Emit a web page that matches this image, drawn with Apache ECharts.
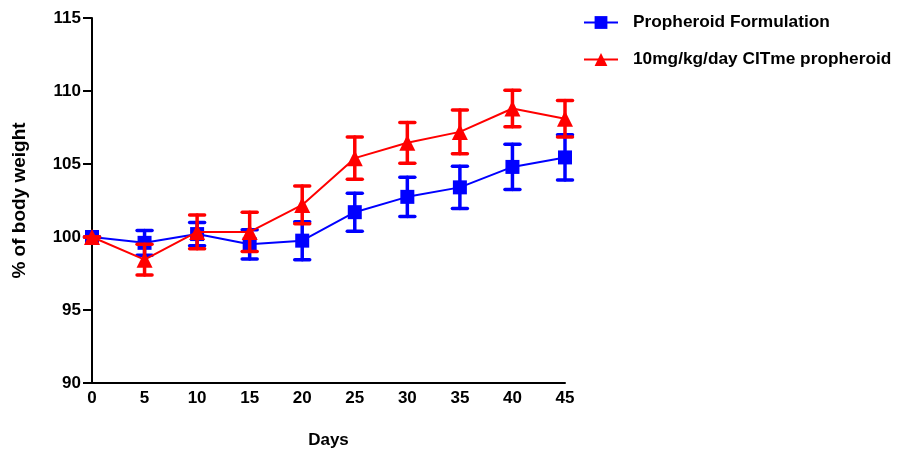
<!DOCTYPE html>
<html><head><meta charset="utf-8">
<script src="https://cdn.jsdelivr.net/npm/echarts@6/dist/echarts.min.js"></script>
<style>html,body{margin:0;padding:0;background:#fff}#c{width:909px;height:454px}</style>
</head><body><div id="c"></div>
<script>
var days = [0, 5, 10, 15, 20, 25, 30, 35, 40, 45];
var yTicks = [90, 95, 100, 105, 110, 115];
var seriesNames = ['Propheroid Formulation', '10mg/kg/day CITme propheroid'];
var blueMean = [100, 99.6, 100.2, 99.5, 99.75, 101.7, 102.75, 103.4, 104.8, 105.45];
var blueErr  = [0, 0.85, 0.8, 1.0, 1.3, 1.3, 1.35, 1.45, 1.55, 1.55];
var redMean  = [100, 98.45, 100.35, 100.35, 102.2, 105.4, 106.45, 107.2, 108.8, 108.1];
var redErr   = [0, 1.05, 1.15, 1.35, 1.3, 1.45, 1.4, 1.5, 1.25, 1.25];

function pts(m) { return days.map(function (d, i) { return [d, m[i]]; }); }
function errs(m, e) { return days.map(function (d, i) { return [d, m[i] - e[i], m[i] + e[i]]; }); }
function errRender(color) {
  return function (params, api) {
    var x = api.value(0);
    var lo = api.coord([x, api.value(1)]);
    var hi = api.coord([x, api.value(2)]);
    var w = 7.5;
    var st = { stroke: color, lineWidth: 3.5, lineCap: 'round' };
    return { type: 'group', children: [
      { type: 'line', shape: { x1: lo[0], y1: lo[1], x2: hi[0], y2: hi[1] }, style: st },
      { type: 'line', shape: { x1: hi[0] - w, y1: hi[1], x2: hi[0] + w, y2: hi[1] }, style: st },
      { type: 'line', shape: { x1: lo[0] - w, y1: lo[1], x2: lo[0] + w, y2: lo[1] }, style: st }
    ]};
  };
}
var font = 'Liberation Sans, Arial, sans-serif';
var chart = echarts.init(document.getElementById('c'));
chart.setOption({
  animation: false,
  grid: { left: 92, right: 344, top: 18, bottom: 71 },
  legend: {
    orient: 'vertical', left: 578, top: 9, itemGap: 20, itemWidth: 34, itemHeight: 16,
    data: seriesNames,
    textStyle: { fontFamily: font, fontWeight: 'bold', fontSize: 17.3, color: '#000', padding: [0, 0, 0, 10] }
  },
  xAxis: {
    type: 'value', min: 0, max: 45, interval: 5,
    name: 'Days', nameLocation: 'middle', nameGap: 49,
    nameTextStyle: { fontFamily: font, fontWeight: 'bold', fontSize: 17, color: '#000' },
    axisLine: { lineStyle: { color: '#000', width: 2 } },
    axisTick: { show: false },
    splitLine: { show: false },
    axisLabel: { fontFamily: font, fontWeight: 'bold', fontSize: 17, color: '#000', margin: 7,
      formatter: function (v) { return days.indexOf(v) >= 0 ? String(v) : ''; } }
  },
  yAxis: {
    type: 'value', min: 90, max: 115, interval: 5,
    name: '% of body weight', nameLocation: 'middle', nameGap: 63, nameRotate: 90,
    nameTextStyle: { fontFamily: font, fontWeight: 'bold', fontSize: 19, color: '#000' },
    axisLine: { show: true, lineStyle: { color: '#000', width: 2 } },
    axisTick: { show: true, length: 9, lineStyle: { color: '#000', width: 2 } },
    splitLine: { show: false },
    axisLabel: { fontFamily: font, fontWeight: 'bold', fontSize: 17, color: '#000', margin: 11,
      formatter: function (v) { return yTicks.indexOf(v) >= 0 ? String(v) : ''; } }
  },
  series: [
    { name: 'errBlue', type: 'custom', renderItem: errRender('#0000ff'), data: errs(blueMean, blueErr), z: 2, encode: { x: 0, y: [1, 2] } },
    { name: seriesNames[0], type: 'line', data: pts(blueMean), symbol: 'rect', symbolSize: 14, z: 3,
      itemStyle: { color: '#0000ff' }, lineStyle: { color: '#0000ff', width: 2 } },
    { name: 'errRed', type: 'custom', renderItem: errRender('#ff0000'), data: errs(redMean, redErr), z: 4, encode: { x: 0, y: [1, 2] } },
    { name: seriesNames[1], type: 'line', data: pts(redMean), symbol: 'triangle', symbolSize: 16, z: 5,
      itemStyle: { color: '#ff0000' }, lineStyle: { color: '#ff0000', width: 2 } }
  ]
});
</script></body></html>
